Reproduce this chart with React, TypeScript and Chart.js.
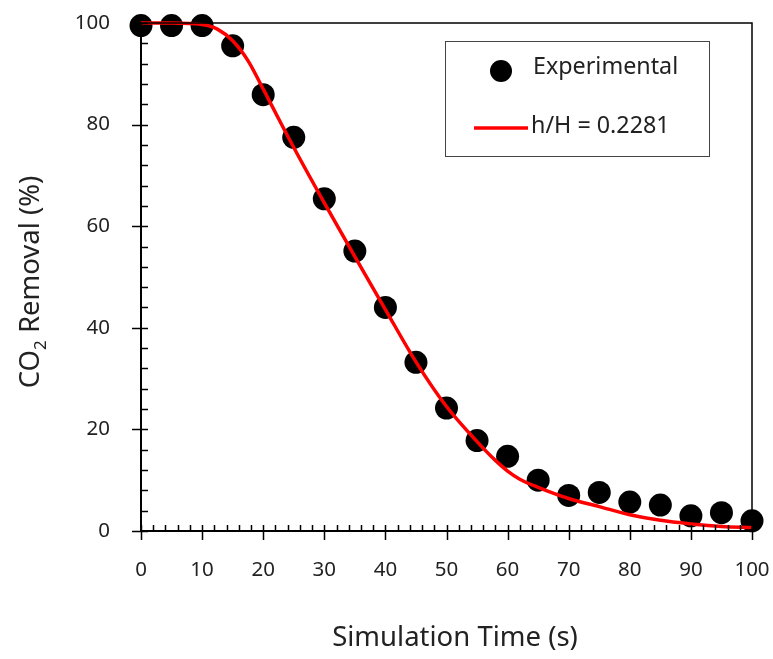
import React, { useEffect, useRef } from "react";
import { Chart, registerables } from "chart.js";

Chart.register(...registerables);

const expTime = [0, 5, 10, 15, 20, 25, 30, 35, 40, 45, 50, 55, 60, 65, 70, 75, 80, 85, 90, 95, 100];
const expRemoval = [99.5, 99.5, 99.5, 95.5, 85.9, 77.5, 65.4, 55.1, 44.0, 33.2, 24.2, 17.8, 14.7, 10.0, 7.0, 7.6, 5.7, 5.1, 3.0, 3.6, 2.0];

const modelTime = [0, 5, 10, 12.5, 15, 17.5, 20, 22.5, 25, 30, 35, 40, 45, 50, 55, 58, 60, 62, 65, 70, 75, 80, 85, 90, 95, 100];
const modelRemoval = [100, 100, 99.7, 98.8, 96.5, 92.6, 87.0, 81.2, 75.5, 64.6, 54.0, 43.6, 33.3, 24.5, 17.6, 13.9, 11.8, 10.2, 8.6, 6.4, 4.8, 3.2, 2.1, 1.4, 0.9, 0.7];

const xMajorTicks = [0, 10, 20, 30, 40, 50, 60, 70, 80, 90, 100];
const yMajorTicks = [0, 20, 40, 60, 80, 100];

const legendLabels = ["Experimental", "h/H = 0.2281"];
const xTitle = "Simulation Time (s)";

const FONT = '"Noto Sans", "Open Sans", sans-serif';
const TEXT = "#222";

const axesPlugin = {
  id: "customAxes",
  afterDraw(chart: any) {
    const ctx = chart.ctx as CanvasRenderingContext2D;
    const xs = chart.scales.x;
    const ys = chart.scales.y;
    const left = xs.getPixelForValue(0);
    const right = xs.getPixelForValue(100);
    const top = ys.getPixelForValue(100);
    const bottom = ys.getPixelForValue(0);
    ctx.save();
    ctx.strokeStyle = "#000";
    ctx.lineWidth = 1.5;
    ctx.beginPath();
    ctx.moveTo(left, top);
    ctx.lineTo(right, top);
    ctx.lineTo(right, bottom);
    ctx.stroke();
    ctx.lineWidth = 2;
    ctx.beginPath();
    ctx.moveTo(left, top);
    ctx.lineTo(left, bottom);
    ctx.lineTo(right, bottom);
    ctx.stroke();
    ctx.lineWidth = 1.5;
    ctx.beginPath();
    for (let v = 0; v <= 100; v += 4) {
      const y = Math.round(ys.getPixelForValue(v)) + 0.5;
      if (v % 20 === 0) {
        ctx.moveTo(left - 9, y);
        ctx.lineTo(left + 7, y);
      } else {
        ctx.moveTo(left, y);
        ctx.lineTo(left + 7, y);
      }
    }
    for (let v = 0; v <= 100; v += 2) {
      const x = Math.round(xs.getPixelForValue(v)) + 0.5;
      if (v % 10 === 0) {
        ctx.moveTo(x, bottom - 6);
        ctx.lineTo(x, bottom + 9);
      } else {
        ctx.moveTo(x, bottom - 6);
        ctx.lineTo(x, bottom);
      }
    }
    ctx.stroke();
    ctx.fillStyle = TEXT;
    ctx.font = `20.5px ${FONT}`;
    ctx.textAlign = "right";
    ctx.textBaseline = "middle";
    yMajorTicks.forEach((v) => {
      ctx.fillText(String(v), left - 31, ys.getPixelForValue(v));
    });
    ctx.textAlign = "center";
    xMajorTicks.forEach((v) => {
      ctx.fillText(String(v), xs.getPixelForValue(v), bottom + 39);
    });
    ctx.font = `27.5px ${FONT}`;
    ctx.fillText(xTitle, 455, 638);
    ctx.save();
    ctx.translate(31, 282);
    ctx.rotate(-Math.PI / 2);
    const p1 = "CO";
    const p2 = "2";
    const p3 = " Removal (%)";
    ctx.font = `27.5px ${FONT}`;
    const w1 = ctx.measureText(p1).width;
    const w3 = ctx.measureText(p3).width;
    ctx.font = `17px ${FONT}`;
    const w2 = ctx.measureText(p2).width;
    const total = w1 + w2 + w3;
    let cx = -total / 2;
    ctx.textAlign = "left";
    ctx.textBaseline = "middle";
    ctx.font = `27.5px ${FONT}`;
    ctx.fillText(p1, cx, 0);
    cx += w1;
    ctx.font = `17px ${FONT}`;
    ctx.fillText(p2, cx, 10);
    cx += w2;
    ctx.font = `27.5px ${FONT}`;
    ctx.fillText(p3, cx, 0);
    ctx.restore();
    ctx.strokeStyle = "#444";
    ctx.lineWidth = 1;
    ctx.strokeRect(445.5, 41.5, 264, 115);
    ctx.fillStyle = "#000";
    ctx.beginPath();
    ctx.arc(501, 71, 11, 0, Math.PI * 2);
    ctx.fill();
    ctx.strokeStyle = "#ff0000";
    ctx.lineWidth = 3.5;
    ctx.beginPath();
    ctx.moveTo(474, 128);
    ctx.lineTo(528, 128);
    ctx.stroke();
    ctx.fillStyle = TEXT;
    ctx.font = `23.3px ${FONT}`;
    ctx.textAlign = "left";
    ctx.textBaseline = "middle";
    ctx.fillText(legendLabels[0], 533, 67);
    ctx.fillText(legendLabels[1], 531, 126);
    ctx.restore();
  },
};

export default function App() {
  const ref = useRef<HTMLCanvasElement | null>(null);
  useEffect(() => {
    if (!ref.current) return;
    const chart = new Chart(ref.current, {
      type: "scatter",
      data: {
        datasets: [
          {
            type: "line",
            label: legendLabels[1],
            data: modelTime.map((t, i) => ({ x: t, y: modelRemoval[i] })),
            borderColor: "#ff0000",
            borderWidth: 3.5,
            pointRadius: 0,
            cubicInterpolationMode: "monotone",
            fill: false,
            clip: false,
            order: 0,
          } as any,
          {
            type: "scatter",
            label: legendLabels[0],
            data: expTime.map((t, i) => ({ x: t, y: expRemoval[i] })),
            backgroundColor: "#000",
            borderWidth: 0,
            pointRadius: 11.5,
            pointHoverRadius: 11.5,
            clip: false,
            order: 1,
          } as any,
        ],
      },
      options: {
        responsive: false,
        animation: false,
        events: [],
        layout: { padding: { left: 141, top: 23, right: 21, bottom: 128 } },
        plugins: { legend: { display: false }, tooltip: { enabled: false } },
        scales: {
          x: { type: "linear", min: 0, max: 100, display: false },
          y: { type: "linear", min: 0, max: 100, display: false },
        },
      },
      plugins: [axesPlugin],
    });
    return () => chart.destroy();
  }, []);
  return (
    <div style={{ position: "fixed", left: 0, top: 0, width: 773, height: 659, background: "#fff" }}>
      <canvas ref={ref} width={773} height={659} style={{ width: 773, height: 659, display: "block" }} />
    </div>
  );
}
